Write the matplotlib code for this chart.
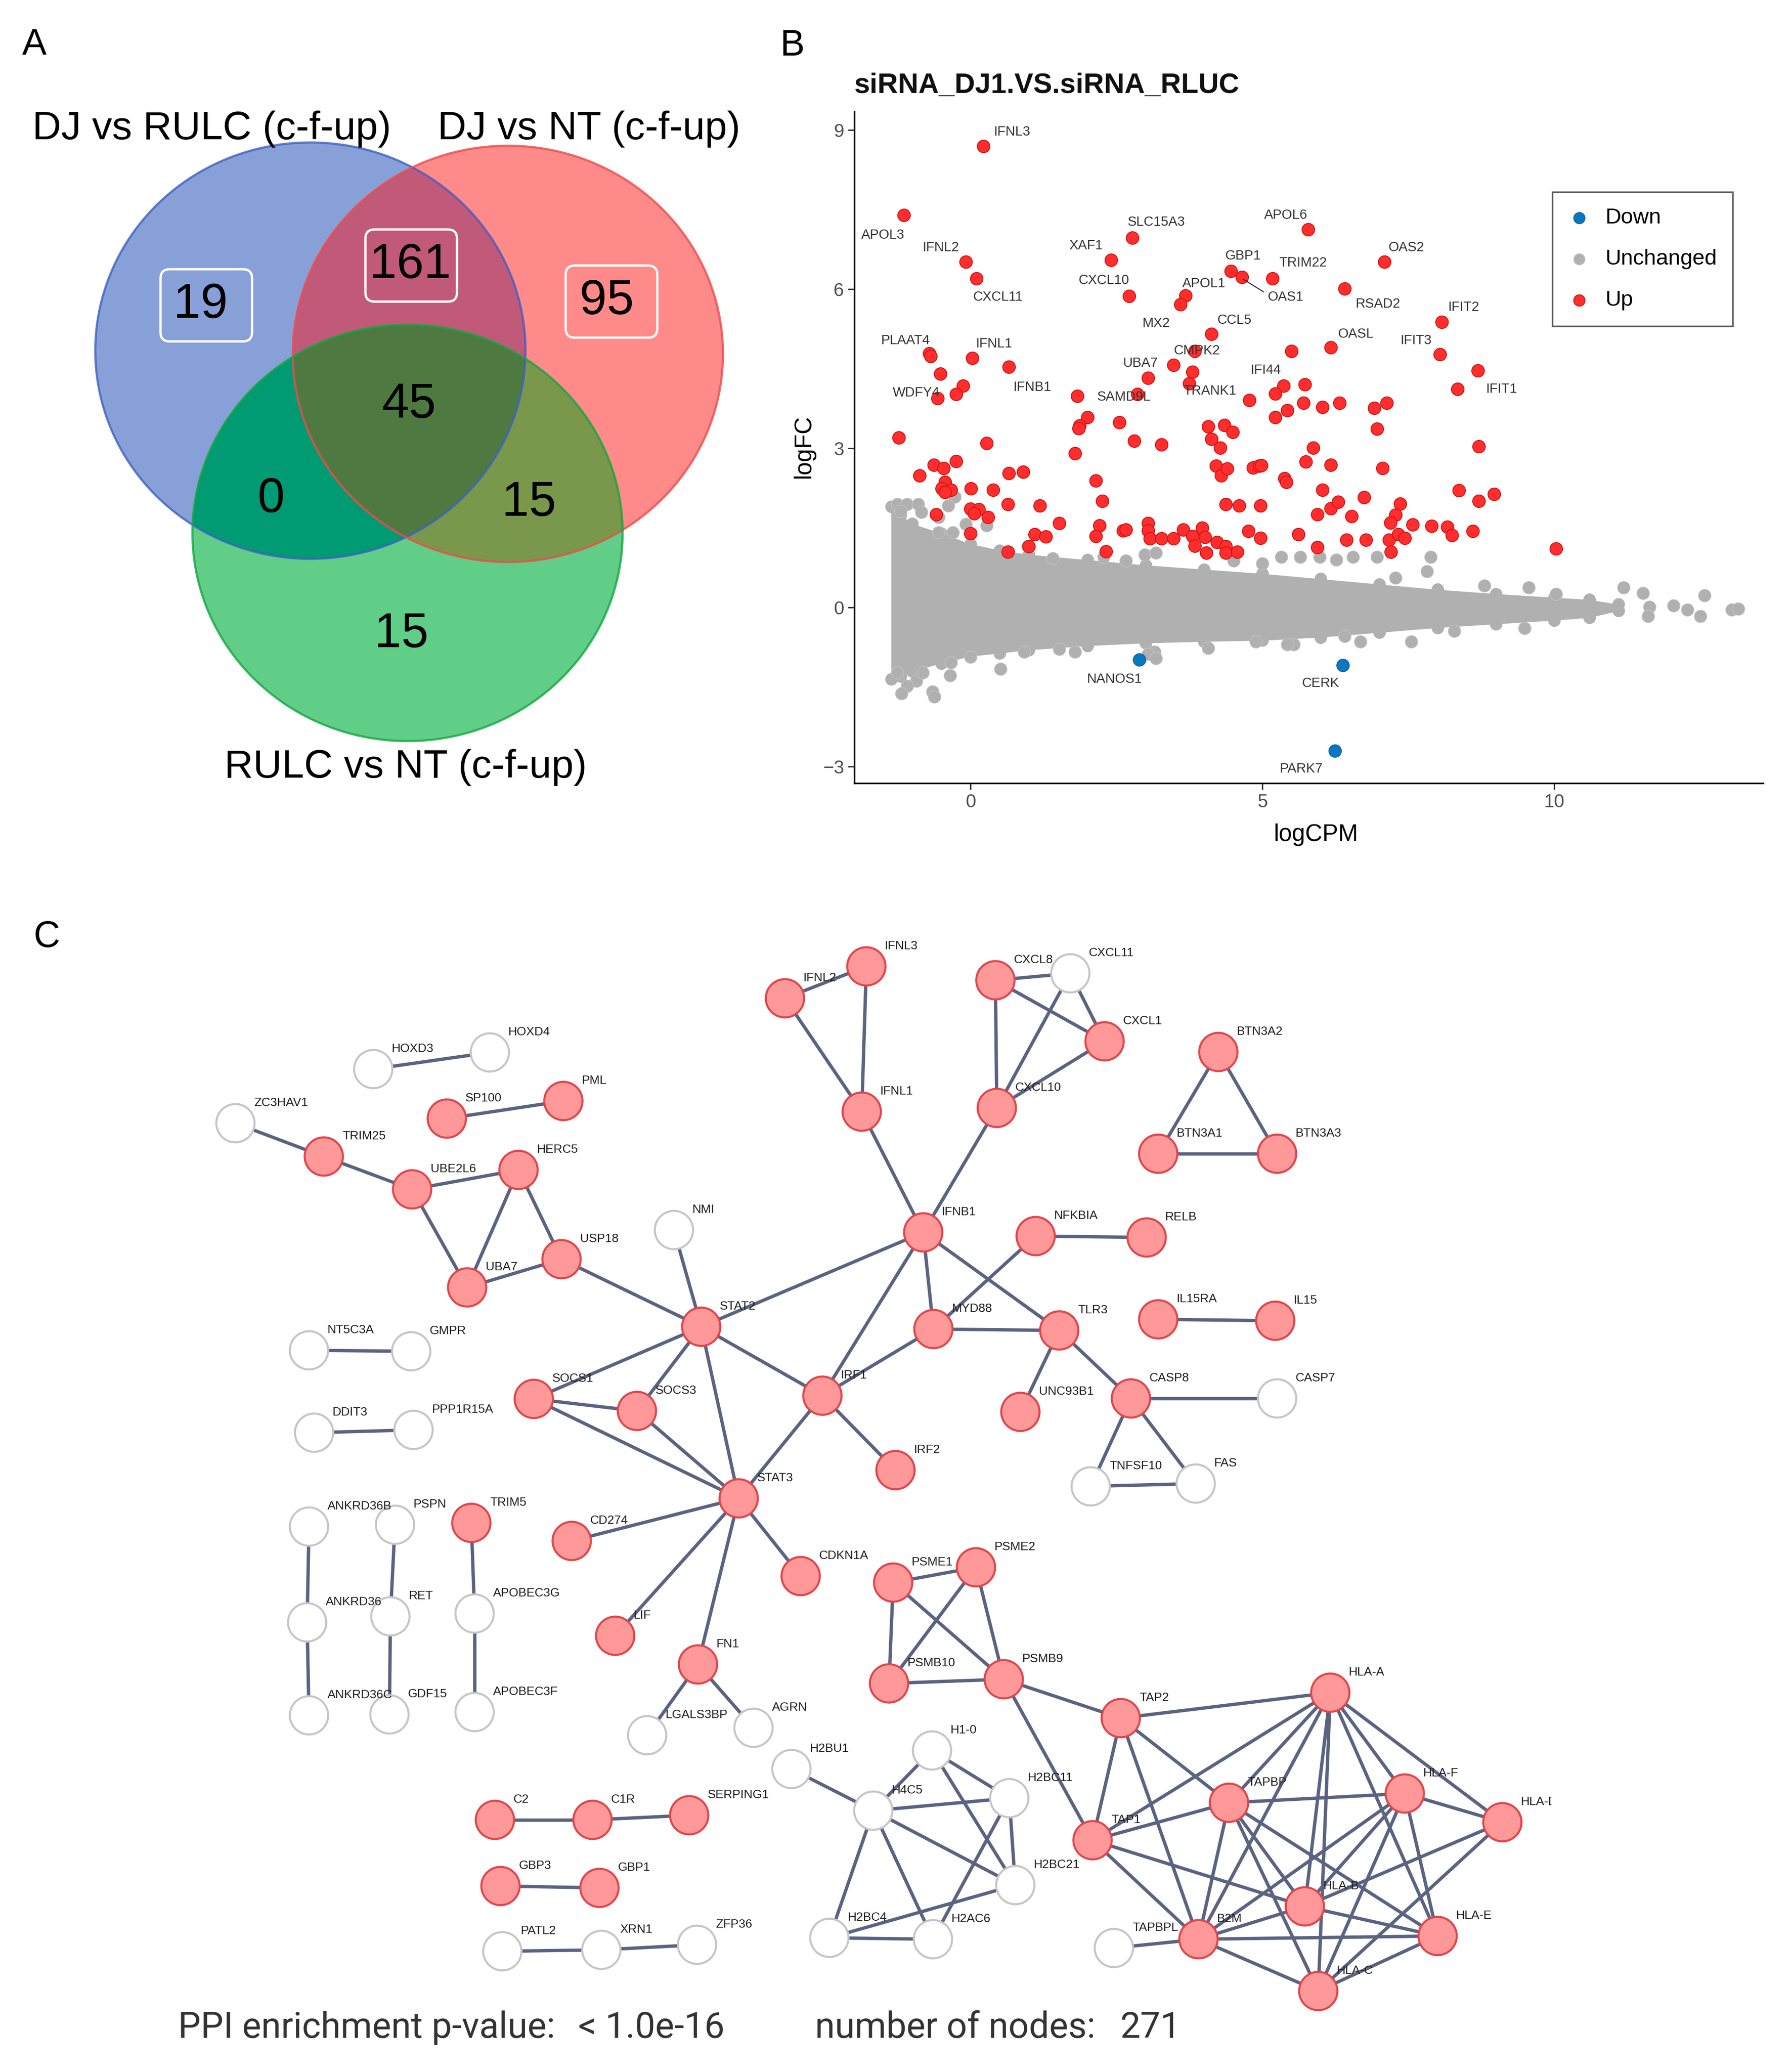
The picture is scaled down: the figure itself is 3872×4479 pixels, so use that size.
import numpy as np
import matplotlib
matplotlib.use("Agg")
import matplotlib.pyplot as plt
from matplotlib.patches import Polygon, FancyBboxPatch, Rectangle
from matplotlib import font_manager

avail = {f.name for f in font_manager.fontManager.ttflist}
SANS = 'Liberation Sans' if 'Liberation Sans' in avail else 'DejaVu Sans'
NARROW = 'Liberation Sans Narrow' if 'Liberation Sans Narrow' in avail else None
ROBOTO = 'Roboto' if 'Roboto' in avail else SANS
plt.rcParams['font.family'] = [SANS, 'DejaVu Sans']

# ---------------------------------------------------------------- data: panel A
venn_sets = ["DJ vs RULC (c-f-up)", "DJ vs NT (c-f-up)", "RULC vs NT (c-f-up)"]
venn_regions = ["A", "B", "C", "AB", "AC", "BC", "ABC"]
venn_counts = [19, 95, 15, 161, 0, 15, 45]
venn_boxed = ["A", "AB", "B"]

# ---------------------------------------------------------------- data: panel B
up_logcpm = [0.22, -1.14, 2.77, 5.78, -0.08, 2.41, 7.09, 0.10, 4.46, 4.65, 5.17, 6.41,
             2.72, 3.68, 3.60, 8.07, 4.13, 6.17, 5.50, 8.04, -0.71, -0.68, 0.03, 3.84,
             0.66, 3.48, 8.69, -0.52, 3.80, 3.04, -0.13, 3.75, 5.73, 5.36, 8.34, -0.25,
             -0.56, 1.83, 2.86, 5.22, 4.78, 5.70, 6.03, 6.32, 6.92, 7.13, 5.43, 5.22,
             2.00, 1.87, 1.85, 2.55, 4.07, 4.35, 4.49, 6.96, -1.23, 2.80, 4.13, 3.27,
             0.28, 4.28, 5.87, 8.71, 1.79,
             -0.63, -0.46, -0.25, -0.87, -0.44, -0.49, -0.33, -0.44, 0.01, 0.39, 0.66,
             0.90, 0.64, 1.19, 0.00, 0.14, 0.06, 0.30, -0.59, 1.52, 1.10, 1.29, 0.00,
             2.15, 2.26, 2.21, 2.15, 2.61, 2.66, 2.32, 3.04, 3.04, 3.07, 3.27, 3.48,
             3.64, 3.80, 3.97, 4.02, 3.84, 4.04, 4.22, 4.37, 4.37, 4.57, 4.21, 4.29,
             4.40, 4.84, 4.94, 4.98, 4.37, 4.60, 4.97, 4.76, 4.97, 5.38, 5.41, 5.74,
             6.17, 7.06, 6.03, 5.62, 5.94, 6.17, 6.30, 5.94, 6.44, 6.53, 6.74, 6.77,
             7.36, 7.28, 7.19, 7.17, 7.33, 7.44, 7.20, 7.57, 7.90, 8.17, 8.25, 8.60,
             8.37, 8.71, 8.97, 10.03, 0.64, 1.00]
up_logfc = [8.70, 7.40, 6.97, 7.13, 6.52, 6.55, 6.52, 6.20, 6.34, 6.23, 6.20, 6.01,
            5.87, 5.88, 5.71, 5.38, 5.16, 4.90, 4.83, 4.77, 4.79, 4.74, 4.70, 4.83,
            4.54, 4.57, 4.47, 4.41, 4.44, 4.33, 4.18, 4.22, 4.21, 4.18, 4.12, 4.02,
            3.94, 3.99, 4.02, 4.03, 3.91, 3.86, 3.78, 3.86, 3.76, 3.86, 3.72, 3.59,
            3.59, 3.43, 3.38, 3.49, 3.41, 3.44, 3.31, 3.37, 3.20, 3.14, 3.18, 3.07,
            3.10, 3.01, 3.01, 3.04, 2.91,
            2.69, 2.63, 2.76, 2.49, 2.37, 2.24, 2.22, 2.17, 2.24, 2.22, 2.53,
            2.56, 1.95, 1.92, 1.86, 1.85, 1.77, 1.70, 1.76, 1.59, 1.38, 1.34, 1.40,
            2.39, 2.01, 1.55, 1.35, 1.45, 1.47, 1.06, 1.59, 1.45, 1.30, 1.30, 1.30,
            1.47, 1.35, 1.50, 1.33, 1.16, 1.03, 1.23, 1.15, 1.03, 1.05, 2.67, 2.49,
            2.62, 2.64, 2.67, 2.68, 1.95, 1.92, 1.92, 1.44, 1.31, 2.44, 2.37, 2.75,
            2.69, 2.63, 2.22, 1.38, 1.76, 1.87, 1.99, 1.14, 1.28, 1.72, 2.08, 1.28,
            1.96, 1.75, 1.60, 1.28, 1.38, 1.31, 1.05, 1.56, 1.54, 1.52, 1.36, 1.44,
            2.21, 2.01, 2.14, 1.11, 1.05, 1.15]
down_genes = ["NANOS1", "CERK", "PARK7"]
down_logcpm = [2.89, 6.38, 6.24]
down_logfc = [-0.98, -1.09, -2.70]

lab_genes = ["IFNL3", "APOL3", "IFNL2", "XAF1", "SLC15A3", "APOL6", "OAS2", "GBP1",
             "TRIM22", "CXCL11", "CXCL10", "APOL1", "OAS1", "RSAD2", "IFIT2", "MX2",
             "CCL5", "OASL", "IFIT3", "PLAAT4", "IFNL1", "CMPK2", "UBA7", "IFI44",
             "WDFY4", "IFNB1", "SAMD9L", "TRANK1", "IFIT1", "NANOS1", "CERK", "PARK7"]
lab_x = [0.71, -1.50, -0.51, 1.98, 3.18, 5.40, 7.47, 4.67, 5.70, 0.47, 2.28, 4.00,
         5.40, 6.98, 8.45, 3.18, 4.52, 6.60, 7.63, -1.11, 0.40, 3.88, 2.91, 5.06,
         -0.93, 1.06, 2.63, 4.10, 9.10, 2.47, 6.00, 5.67]
lab_y = [8.97, 7.02, 6.79, 6.82, 7.27, 7.40, 6.79, 6.63, 6.50, 5.85, 6.17, 6.11,
         5.85, 5.72, 5.66, 5.36, 5.42, 5.16, 5.03, 5.03, 4.97, 4.84, 4.61, 4.48,
         4.05, 4.15, 3.97, 4.08, 4.12, -1.35, -1.43, -3.04]

# dense cloud of unchanged genes: envelope
cloud_x = [-1.36, -1.2, -1.0, -0.5, 0.0, 0.5, 1.0, 2.0, 3.0, 4.0, 5.0, 6.0, 7.0,
           8.0, 9.0, 10.0, 10.6, 11.1]
cloud_hi = [1.90, 1.75, 1.58, 1.40, 1.20, 1.08, 1.00, 0.90, 0.80, 0.72, 0.64, 0.54,
            0.44, 0.34, 0.26, 0.19, 0.15, 0.06]
cloud_lo = [-1.35, -1.30, -1.20, -1.05, -0.92, -0.86, -0.80, -0.72, -0.67, -0.64,
            -0.62, -0.56, -0.47, -0.38, -0.31, -0.24, -0.19, -0.06]
grey_x = [-1.25, -1.09, -0.90, -1.20, -0.84, -0.27, -0.38, -0.55, -0.08, 0.28, -0.55,
          -0.30, 0.98, 0.65, 1.41, 2.28, 2.66, 2.99, 3.18, 4.51, 5.00, 5.32, 5.65,
          5.98, 6.27, 6.55, 6.96, 7.88, 7.82, 7.28, 8.80, 9.56, 10.03, 11.19, 11.52,
          11.63, 12.04, 12.28, 12.50, 12.57, 13.04, 13.15, 11.61, 9.49, 8.29, 7.55,
          6.68, 6.41, 5.54, 5.43, 4.89, 4.07, 3.15, 3.04, 3.18, 1.79, 1.52, 0.92, 0.51,
          0.00, -0.33, -0.35, -0.65, -0.62, -0.93, -1.09, -1.18, -1.25, -0.82]
grey_y = [1.95, 1.95, 1.95, 1.82, 1.80, 2.09, 1.92, 1.70, 1.57, 1.55, 1.42, 1.42,
          1.15, 1.05, 0.93, 0.95, 0.88, 1.00, 1.03, 0.88, 0.83, 0.95, 0.95, 0.95,
          0.90, 0.95, 0.95, 0.95, 0.68, 0.56, 0.41, 0.38, 0.26, 0.38, 0.27, 0.01,
          0.04, -0.04, -0.16, 0.23, -0.04, -0.02, -0.16, -0.39, -0.44, -0.64, -0.64,
          -0.54, -0.69, -0.69, -0.64, -0.76, -0.83, -0.88, -0.96, -0.83, -0.78, -0.83,
          -1.16, -0.93, -1.03, -1.28, -1.58, -1.68, -1.38, -1.48, -1.62, -1.23, -1.23]

# ---------------------------------------------------------------- data: panel C
node_names = ["HOXD3", "HOXD4", "SP100", "PML", "ZC3HAV1", "TRIM25", "UBE2L6", "HERC5",
              "USP18", "UBA7", "NMI", "STAT2", "NT5C3A", "GMPR", "DDIT3", "PPP1R15A",
              "SOCS1", "SOCS3", "IFNL3", "IFNL2", "IFNL1", "CXCL8", "CXCL11", "CXCL1",
              "CXCL10", "BTN3A2", "BTN3A1", "BTN3A3", "IFNB1", "NFKBIA", "RELB", "MYD88",
              "TLR3", "IL15RA", "IL15", "IRF1", "UNC93B1", "CASP8", "CASP7", "IRF2",
              "TNFSF10", "FAS", "STAT3", "ANKRD36B", "PSPN", "TRIM5", "CD274", "CDKN1A",
              "ANKRD36", "RET", "APOBEC3G", "LIF", "FN1", "ANKRD36C", "GDF15", "APOBEC3F",
              "LGALS3BP", "AGRN", "H2BU1", "C2", "C1R", "SERPING1", "GBP3", "GBP1",
              "PATL2", "XRN1", "ZFP36", "PSME1", "PSME2", "PSMB10", "PSMB9", "TAP2",
              "HLA-A", "H1-0", "H4C5", "H2BC11", "TAPBP", "HLA-F", "HLA-D", "TAP1",
              "H2BC21", "HLA-B", "H2BC4", "H2AC6", "TAPBPL", "B2M", "HLA-E", "HLA-C"]
node_up = [0, 0, 1, 1, 0, 1, 1, 1, 1, 1, 0, 1, 0, 0, 0, 0,
           1, 1, 1, 1, 1, 1, 0, 1, 1, 1, 1, 1, 1, 1, 1, 1,
           1, 1, 1, 1, 1, 1, 0, 1, 0, 0, 1, 0, 0, 1, 1, 1,
           0, 0, 0, 1, 1, 0, 0, 0, 0, 0, 0, 1, 1, 1, 1, 1,
           0, 0, 0, 1, 1, 1, 1, 1, 1, 0, 0, 0, 1, 1, 1, 1,
           0, 1, 0, 0, 0, 1, 1, 1]
edges = [("HOXD3", "HOXD4"), ("SP100", "PML"), ("ZC3HAV1", "TRIM25"), ("TRIM25", "UBE2L6"),
         ("UBE2L6", "HERC5"), ("UBE2L6", "UBA7"), ("HERC5", "UBA7"), ("HERC5", "USP18"),
         ("UBA7", "USP18"), ("USP18", "STAT2"), ("NMI", "STAT2"), ("STAT2", "IFNB1"),
         ("STAT2", "SOCS1"), ("STAT2", "SOCS3"), ("STAT2", "STAT3"), ("STAT2", "IRF1"),
         ("SOCS1", "SOCS3"), ("SOCS1", "STAT3"), ("SOCS3", "STAT3"), ("IFNB1", "IFNL1"),
         ("IFNL1", "IFNL2"), ("IFNL1", "IFNL3"), ("IFNL2", "IFNL3"), ("IFNB1", "CXCL10"),
         ("CXCL10", "CXCL8"), ("CXCL10", "CXCL11"), ("CXCL10", "CXCL1"), ("CXCL8", "CXCL11"),
         ("CXCL8", "CXCL1"), ("CXCL11", "CXCL1"), ("IFNB1", "MYD88"), ("IFNB1", "TLR3"),
         ("IFNB1", "IRF1"), ("MYD88", "NFKBIA"), ("NFKBIA", "RELB"), ("MYD88", "TLR3"),
         ("MYD88", "IRF1"), ("TLR3", "UNC93B1"), ("TLR3", "CASP8"), ("CASP8", "CASP7"),
         ("CASP8", "TNFSF10"), ("CASP8", "FAS"), ("TNFSF10", "FAS"), ("IRF1", "IRF2"),
         ("IRF1", "STAT3"), ("STAT3", "CD274"), ("STAT3", "LIF"), ("STAT3", "FN1"),
         ("STAT3", "CDKN1A"), ("FN1", "LGALS3BP"), ("FN1", "AGRN"),
         ("BTN3A2", "BTN3A1"), ("BTN3A2", "BTN3A3"), ("BTN3A1", "BTN3A3"), ("IL15RA", "IL15"),
         ("NT5C3A", "GMPR"), ("DDIT3", "PPP1R15A"), ("ANKRD36B", "ANKRD36"),
         ("ANKRD36", "ANKRD36C"), ("PSPN", "RET"), ("RET", "GDF15"), ("TRIM5", "APOBEC3G"),
         ("APOBEC3G", "APOBEC3F"), ("C2", "C1R"), ("C1R", "SERPING1"), ("GBP3", "GBP1"),
         ("PATL2", "XRN1"), ("XRN1", "ZFP36"),
         ("H2BU1", "H4C5"), ("H1-0", "H4C5"), ("H1-0", "H2BC11"), ("H1-0", "H2BC21"),
         ("H4C5", "H2BC11"), ("H4C5", "H2BC21"), ("H4C5", "H2BC4"), ("H4C5", "H2AC6"),
         ("H2BC11", "H2BC21"), ("H2BC11", "H2AC6"), ("H2BC21", "H2BC4"), ("H2BC4", "H2AC6"),
         ("PSME1", "PSME2"), ("PSME1", "PSMB10"), ("PSME1", "PSMB9"), ("PSME2", "PSMB10"),
         ("PSME2", "PSMB9"), ("PSMB10", "PSMB9"), ("PSMB9", "TAP2"), ("PSMB9", "TAP1"),
         ("TAP2", "HLA-A"), ("TAP2", "TAP1"), ("TAP2", "TAPBP"), ("TAP2", "B2M"),
         ("TAP1", "TAPBP"), ("TAP1", "HLA-A"), ("TAP1", "B2M"), ("TAP1", "HLA-B"),
         ("TAPBP", "HLA-F"), ("TAPBP", "B2M"), ("TAPBP", "HLA-B"), ("TAPBP", "HLA-C"),
         ("TAPBP", "HLA-E"), ("TAPBP", "HLA-A"), ("HLA-F", "HLA-D"), ("HLA-F", "HLA-B"),
         ("HLA-F", "B2M"), ("HLA-F", "HLA-C"), ("HLA-F", "HLA-E"), ("HLA-F", "HLA-A"),
         ("HLA-D", "HLA-A"), ("HLA-D", "HLA-B"), ("HLA-D", "HLA-C"), ("B2M", "HLA-B"),
         ("B2M", "HLA-C"), ("B2M", "HLA-E"), ("B2M", "TAPBPL"), ("B2M", "HLA-A"),
         ("HLA-B", "HLA-E"), ("HLA-B", "HLA-A"), ("HLA-C", "HLA-E"), ("HLA-C", "HLA-A"),
         ("HLA-E", "HLA-A")]
ppi_pvalue = "< 1.0e-16"
n_nodes = 271

# ---------------------------------------------------------------- layout (pixels)
W, H = 3872, 4479
node_pos = {
    "HOXD3": (807, 2311), "HOXD4": (1059, 2275), "SP100": (966, 2418), "PML": (1218, 2380),
    "ZC3HAV1": (509, 2428), "TRIM25": (700, 2500), "UBE2L6": (891, 2571), "HERC5": (1121, 2529),
    "USP18": (1214, 2722), "UBA7": (1010, 2783), "NMI": (1457, 2659), "STAT2": (1516, 2868),
    "NT5C3A": (668, 2919), "GMPR": (889, 2921), "DDIT3": (679, 3097), "PPP1R15A": (894, 3091),
    "SOCS1": (1154, 3024), "SOCS3": (1377, 3050), "IFNL3": (1873, 2089), "IFNL2": (1697, 2158),
    "IFNL1": (1863, 2403), "CXCL8": (2152, 2119), "CXCL11": (2314, 2104), "CXCL1": (2388, 2251),
    "CXCL10": (2155, 2395), "BTN3A2": (2634, 2274), "BTN3A1": (2504, 2494), "BTN3A3": (2761, 2494),
    "IFNB1": (1996, 2664), "NFKBIA": (2239, 2672), "RELB": (2479, 2675), "MYD88": (2018, 2873),
    "TLR3": (2290, 2876), "IL15RA": (2504, 2852), "IL15": (2757, 2855), "IRF1": (1778, 3017),
    "UNC93B1": (2206, 3052), "CASP8": (2445, 3023), "CASP7": (2761, 3023), "IRF2": (1936, 3178),
    "TNFSF10": (2358, 3213), "FAS": (2585, 3207), "STAT3": (1597, 3239), "ANKRD36B": (668, 3300),
    "PSPN": (854, 3296), "TRIM5": (1019, 3292), "CD274": (1236, 3331), "CDKN1A": (1731, 3407),
    "ANKRD36": (664, 3507), "RET": (844, 3494), "APOBEC3G": (1026, 3488), "LIF": (1330, 3536),
    "FN1": (1509, 3598), "ANKRD36C": (668, 3708), "GDF15": (842, 3706), "APOBEC3F": (1026, 3701),
    "LGALS3BP": (1399, 3751), "AGRN": (1629, 3735), "H2BU1": (1711, 3824), "C2": (1070, 3934),
    "C1R": (1281, 3934), "SERPING1": (1490, 3924), "GBP3": (1082, 4077), "GBP1": (1296, 4081),
    "PATL2": (1086, 4218), "XRN1": (1300, 4215), "ZFP36": (1507, 4204), "PSME1": (1931, 3421),
    "PSME2": (2110, 3388), "PSMB10": (1922, 3639), "PSMB9": (2170, 3630), "TAP2": (2423, 3714),
    "HLA-A": (2876, 3659), "H1-0": (2015, 3784), "H4C5": (1888, 3914), "H2BC11": (2182, 3887),
    "TAPBP": (2657, 3897), "HLA-F": (3037, 3877), "HLA-D": (3248, 3939), "TAP1": (2362, 3978),
    "H2BC21": (2195, 4075), "HLA-B": (2821, 4121), "H2BC4": (1793, 4189), "H2AC6": (2017, 4192),
    "TAPBPL": (2408, 4211), "B2M": (2591, 4192), "HLA-E": (3108, 4185), "HLA-C": (2850, 4304),
}

fig = plt.figure(figsize=(W / 100, H / 100), dpi=100)
bg = fig.add_axes([0, 0, 1, 1])
bg.set_xlim(0, W)
bg.set_ylim(H, 0)
bg.axis('off')

# panel letters
for letter, (lx, ly) in zip("ABC", [(74, 98), (1713, 100), (102, 2026)]):
    bg.text(lx, ly, letter, fontsize=57, ha='center', va='center', color='black')

# ---------------------------------------------------------------- panel A: Venn
def ellipse_poly(cx, cy, rx, ry, n=360):
    t = np.linspace(0, 2 * np.pi, n, endpoint=False)
    return [(cx + rx * np.cos(a), cy + ry * np.sin(a)) for a in t]


def clip_convex(subject, clipper):
    def inside(p, a, b):
        return (b[0] - a[0]) * (p[1] - a[1]) - (b[1] - a[1]) * (p[0] - a[0]) >= 0

    def inter(s, e, a, b):
        dc = (a[0] - b[0], a[1] - b[1])
        dp = (s[0] - e[0], s[1] - e[1])
        n1 = a[0] * b[1] - a[1] * b[0]
        n2 = s[0] * e[1] - s[1] * e[0]
        den = dc[0] * dp[1] - dc[1] * dp[0]
        return ((n1 * dp[0] - n2 * dc[0]) / den, (n1 * dp[1] - n2 * dc[1]) / den)

    out = list(subject)
    a = clipper[-1]
    for b in clipper:
        inp, out = out, []
        if not inp:
            break
        s = inp[-1]
        for e in inp:
            if inside(e, a, b):
                if not inside(s, a, b):
                    out.append(inter(s, e, a, b))
                out.append(e)
            elif inside(s, a, b):
                out.append(inter(s, e, a, b))
            s = e
        a = b
    return out


centers = {"A": (671, 758), "B": (1098, 765), "C": (881, 1152)}
RX, RY = 465, 450
polys = {k: ellipse_poly(cx, cy, RX, RY) for k, (cx, cy) in centers.items()}
fill_col = {"A": "#88A0D8", "B": "#FF8A8A", "C": "#60CE87",
            "AB": "#C15A78", "AC": "#009B73", "BC": "#7A984B", "ABC": "#4E7A41"}
edge_col = {"A": "#3E60C4", "B": "#EE4B4B", "C": "#13A640"}
for k in ["A", "B", "C"]:
    bg.add_patch(Polygon(polys[k], closed=True, fc=fill_col[k], ec='none', zorder=1))
for k in ["AB", "AC", "BC"]:
    p = clip_convex(polys[k[0]], polys[k[1]])
    bg.add_patch(Polygon(p, closed=True, fc=fill_col[k], ec='none', zorder=2))
p3 = clip_convex(clip_convex(polys["A"], polys["B"]), polys["C"])
bg.add_patch(Polygon(p3, closed=True, fc=fill_col["ABC"], ec='none', zorder=3))
for k in ["A", "B", "C"]:
    bg.add_patch(Polygon(polys[k], closed=True, fc='none', ec=edge_col[k],
                         lw=3.4, alpha=0.8, zorder=4))

region_pos = {"A": (434, 660), "B": (1312, 652), "C": (868, 1372), "AB": (887, 574),
              "AC": (586, 1079), "BC": (1144, 1088), "ABC": (884, 875)}
box_off = {"A": 12, "AB": 2, "B": 10}
for reg, cnt in zip(venn_regions, venn_counts):
    x, y = region_pos[reg]
    bg.text(x, y, str(cnt), fontsize=76, ha='center', va='center', color='black', zorder=6)
    if reg in venn_boxed:
        bx = x + box_off[reg]
        bg.add_patch(FancyBboxPatch((bx - 99, y - 78), 198, 156,
                                    boxstyle="round,pad=0,rounding_size=20",
                                    fc='none', ec='white', lw=3.6, zorder=5))
for name, (x, y) in zip(venn_sets, [(458, 279), (1273, 279), (877, 1659)]):
    bg.text(x, y, name, fontsize=62, ha='center', va='center', color='black', zorder=6)

# ---------------------------------------------------------------- panel B: MA plot
L, R, T, B = 1847, 3812, 241, 1693
axB = fig.add_axes([L / W, 1 - B / H, (R - L) / W, (B - T) / H])
axB.set_xlim(-1.99, 13.58)
axB.set_ylim(-3.31, 9.35)
GREY = '#B0B0B0'
PS = 380
axB.fill_between(cloud_x, cloud_lo, cloud_hi, color=GREY, lw=0, zorder=1)
axB.scatter(cloud_x + cloud_x, cloud_hi + cloud_lo, s=PS, c=GREY, lw=0, zorder=1)
grey_sc = axB.scatter(grey_x, grey_y, s=PS, c=GREY, ec='#C4C4C4', lw=1.0, zorder=1,
                      label='Unchanged')
down_sc = axB.scatter(down_logcpm, down_logfc, s=PS, c='#0A78C0', ec='#0A5E98', lw=1.2,
                      zorder=3, label='Down')
up_sc = axB.scatter(up_logcpm, up_logfc, s=PS, c='#FF2E2E', ec='#D81010', lw=1.4,
                    zorder=3, label='Up')
lab_kw = dict(fontsize=26, family=NARROW) if NARROW else dict(fontsize=21)
for g, x, y in zip(lab_genes, lab_x, lab_y):
    axB.text(x, y, g, ha='center', va='center', color='#333333', zorder=4, **lab_kw)
i_oas1 = lab_genes.index("OAS1")
axB.plot([4.67, lab_x[i_oas1] - 0.38], [6.19, lab_y[i_oas1] + 0.1], color='#222222',
         lw=1.5, zorder=4)

for s in ['top', 'right']:
    axB.spines[s].set_visible(False)
for s in ['left', 'bottom']:
    axB.spines[s].set_linewidth(2.5)
    axB.spines[s].set_color('black')
axB.set_xticks([0, 5, 10])
axB.set_yticks([-3, 0, 3, 6, 9])
axB.tick_params(axis='both', length=10, width=2.2, color='#333333', labelsize=29,
                labelcolor='#4D4D4D', pad=6)
axB.set_xlabel("logCPM", fontsize=37, color='black')
axB.set_ylabel("logFC", fontsize=37, color='black')
axB.xaxis.set_label_coords(0.508, -0.060)
axB.yaxis.set_label_coords(-0.043, 0.501)
axB.text(0.0, (B - 186) / (B - T), "siRNA_DJ1.VS.siRNA_RLUC", transform=axB.transAxes,
         fontsize=44, fontweight='bold', ha='left', va='center', color='#111111')
leg = axB.legend(handles=[down_sc, grey_sc, up_sc], loc='upper left',
                 bbox_to_anchor=(0.768, 0.880), borderaxespad=0, fontsize=34,
                 frameon=True, fancybox=False, edgecolor='#333333', borderpad=0.72,
                 labelspacing=0.95, handlelength=1.0, handletextpad=0.7, markerscale=0.9)
leg.get_frame().set_linewidth(2.5)

# ---------------------------------------------------------------- panel C: network
EDGE = '#5A6482'
for a, b in edges:
    (x1, y1), (x2, y2) = node_pos[a], node_pos[b]
    bg.plot([x1, x2], [y1, y2], color=EDGE, lw=5.2, solid_capstyle='butt', zorder=7)
nx = [node_pos[n][0] for n in node_names]
ny = [node_pos[n][1] for n in node_names]
fcs = ['#FF9999' if u else 'white' for u in node_up]
ecs = ['#E0464C' if u else '#C6C6C6' for u in node_up]
bg.scatter(nx, ny, s=3550, c=fcs, edgecolors=ecs, linewidths=3.2, zorder=8)
clip_rect = Rectangle((0, 0), 3354, H, transform=bg.transData, visible=False)
bg.add_patch(clip_rect)
for n, x, y in zip(node_names, nx, ny):
    t = bg.text(x + 40, y - 37, n, fontsize=19, ha='left', va='baseline',
                color='#1E1E1E', zorder=9)
    t.set_clip_on(True)
    t.set_clip_path(clip_rect)

fam = [ROBOTO, 'DejaVu Sans']
bg.text(385, 4405, "PPI enrichment p-value:", fontsize=56, family=fam,
        ha='left', va='baseline', color='#333333')
bg.text(1250, 4405, ppi_pvalue, fontsize=56, family=fam,
        ha='left', va='baseline', color='#333333')
bg.text(1762, 4405, "number of nodes:", fontsize=56, family=fam,
        ha='left', va='baseline', color='#333333')
bg.text(2421, 4405, str(n_nodes), fontsize=56, family=fam,
        ha='left', va='baseline', color='#333333')

fig.savefig("out.png", dpi=100)
